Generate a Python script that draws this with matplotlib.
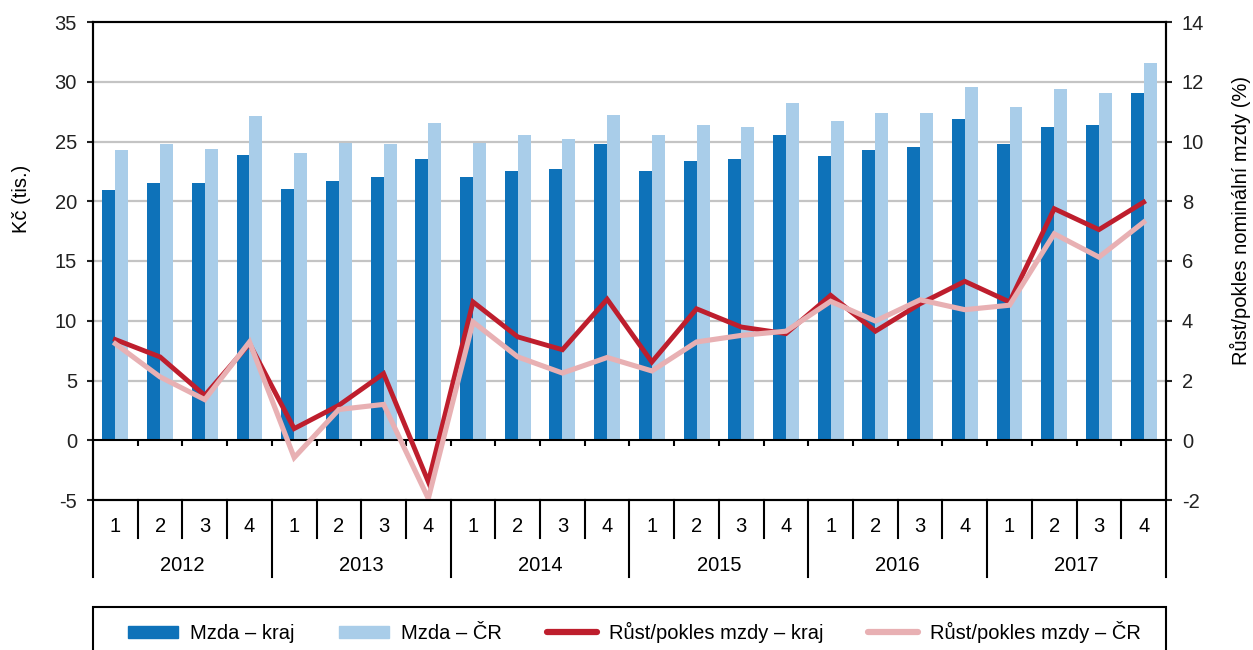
import numpy as np
import matplotlib
matplotlib.use("Agg")
import matplotlib.pyplot as plt
from matplotlib.lines import Line2D
from matplotlib.patches import Patch, Rectangle

plt.rcParams['font.family'] = ['Liberation Sans', 'DejaVu Sans']
plt.rcParams['font.size'] = 14.5
plt.rcParams['axes.unicode_minus'] = False

years = ['2012', '2013', '2014', '2015', '2016', '2017']
quarters = ['1', '2', '3', '4']

# mzda v tis. Kc
mzda_kraj = [20.9, 21.55, 21.55, 23.9,
             21.05, 21.7, 22.05, 23.55,
             22.05, 22.55, 22.7, 24.75,
             22.55, 23.4, 23.55, 25.55,
             23.75, 24.25, 24.55, 26.9,
             24.75, 26.25, 26.4, 29.1]
mzda_cr = [24.25, 24.75, 24.4, 27.1,
           24.05, 24.9, 24.75, 26.55,
           24.9, 25.55, 25.25, 27.25,
           25.55, 26.4, 26.25, 28.25,
           26.75, 27.4, 27.4, 29.6,
           27.9, 29.4, 29.1, 31.6]

# rust/pokles nominalni mzdy v %
rust_kraj = [3.37, 2.79, 1.5, 3.23,
             0.39, 1.17, 2.23, -1.39,
             4.63, 3.46, 3.03, 4.72,
             2.62, 4.4, 3.79, 3.57,
             4.85, 3.65, 4.57, 5.32,
             4.63, 7.75, 7.05, 7.97]
rust_cr = [3.23, 2.12, 1.36, 3.29,
           -0.58, 1.03, 1.2, -1.95,
           3.96, 2.79, 2.25, 2.77,
           2.32, 3.29, 3.51, 3.65,
           4.65, 3.99, 4.7, 4.37,
           4.52, 6.91, 6.13, 7.3]

c_kraj = '#0e72b9'
c_cr = '#a9cde9'
c_rkraj = '#be1e2d'
c_rcr = '#e8b0b3'
fs = 14.5

fig = plt.figure(figsize=(12.53, 6.5), dpi=100)
ax = fig.add_axes([93/1253, 150/650, 1073/1253, 478/650])
ax2 = ax.twinx()

n = len(mzda_kraj)
x = np.arange(n)
w = 0.29

ax.set_zorder(1)
ax2.set_zorder(2)
ax2.patch.set_visible(False)

ax.set_xlim(-0.5, n - 0.5)
ax.set_ylim(-5, 35)
ax.set_yticks(range(-5, 36, 5))
ax2.set_ylim(-2, 14)
ax2.set_yticks(range(-2, 15, 2))

for v in range(5, 35, 5):
    ax.axhline(v, color='#c4c4c4', lw=1.6, zorder=0)

ax.bar(x - w/2, mzda_kraj, w, color=c_kraj, zorder=2)
ax.bar(x + w/2, mzda_cr, w, color=c_cr, zorder=2)
ax.axhline(0, color='black', lw=1.5, zorder=3)
ax.vlines(x[:-1] + 0.5, -0.45, 0, color='black', lw=1.5, zorder=3)

ax2.plot(x, rust_kraj, color=c_rkraj, lw=3.5, solid_joinstyle='miter')
ax2.plot(x, rust_cr, color=c_rcr, lw=3.7, solid_joinstyle='miter')

for a in (ax, ax2):
    for s in a.spines.values():
        s.set_linewidth(1.5)
    a.tick_params(axis='y', direction='out', length=4.5, width=1.5, pad=7, labelsize=fs, colors='#222222')
    a.tick_params(axis='x', bottom=False, labelbottom=False)

ax.set_ylabel('Kč (tis.)', fontsize=fs)
ax.yaxis.set_label_coords(-0.058, 0.63)
ax2.set_ylabel('Růst/pokles nominální mzdy (%)', fontsize=fs)
ax2.yaxis.set_label_coords(1.0597, 0.584)

# kategorie pod osou
tr = ax.get_xaxis_transform()
for i in range(n):
    ax.text(i, -0.056, quarters[i % 4], transform=tr, ha='center', va='center', fontsize=fs)
    if i % 4 != 0:
        ax.plot([i - 0.5, i - 0.5], [0, -0.079], transform=tr, color='black', lw=1.5, clip_on=False)
for j, yr in enumerate(years):
    ax.text(j * 4 + 1.5, -0.136, yr, transform=tr, ha='center', va='center', fontsize=fs)
for j in range(len(years) + 1):
    ax.plot([j * 4 - 0.5, j * 4 - 0.5], [0, -0.161], transform=tr, color='black', lw=1.5, clip_on=False)

fig.patches.append(Rectangle((93/1253, -0.05), 1073/1253, 0.05 + 43/650, transform=fig.transFigure,
                             fill=False, edgecolor='black', lw=1.5))
handles = [Patch(color=c_kraj), Patch(color=c_cr),
           Line2D([], [], color=c_rkraj, lw=4.5, solid_capstyle='round'),
           Line2D([], [], color=c_rcr, lw=4.5, solid_capstyle='round')]
labels = ['Mzda – kraj', 'Mzda – ČR', 'Růst/pokles mzdy – kraj', 'Růst/pokles mzdy – ČR']
fig.legend(handles, labels, loc='center', bbox_to_anchor=(634.5/1253, 18/650), ncol=4,
           frameon=False, handlelength=2.5, handleheight=0.55, handletextpad=0.6,
           columnspacing=2.2, fontsize=fs)

fig.savefig('out.png', dpi=100)
